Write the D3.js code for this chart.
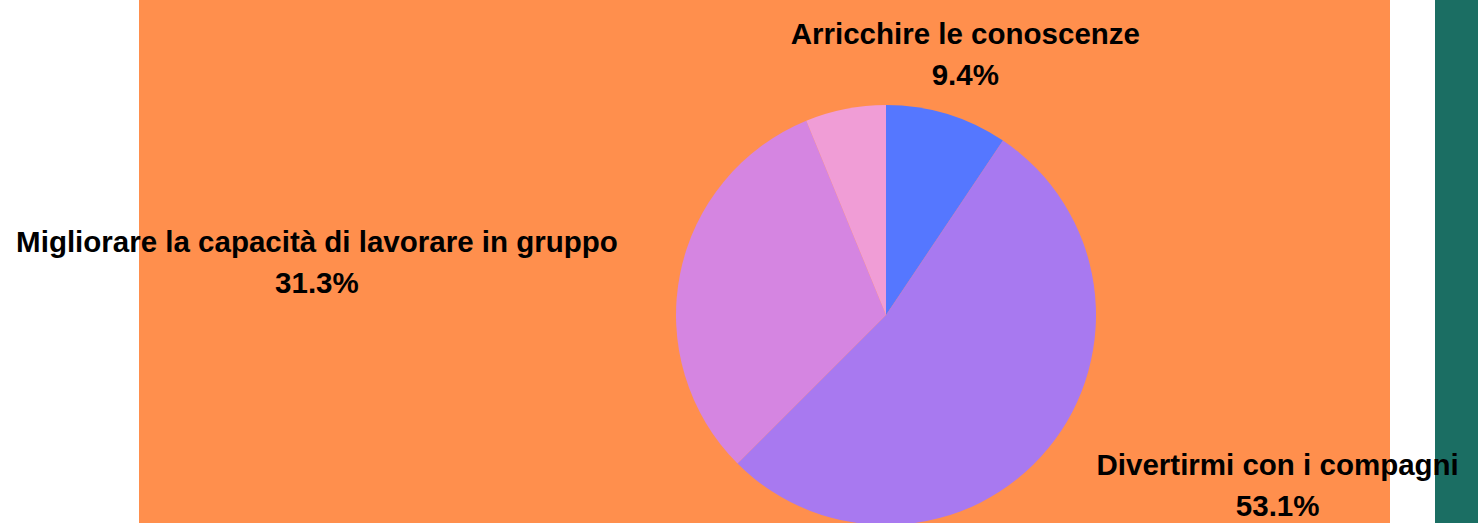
<!DOCTYPE html>
<html>
<head>
<meta charset="utf-8">
<script src="https://cdn.jsdelivr.net/npm/d3@7"></script>
<style>
  body { margin: 0; background: #ffffff; overflow: hidden; }
  text { font-family: "Liberation Sans", Arial, sans-serif; font-weight: bold; fill: #000; }
</style>
</head>
<body>
<svg id="chart" width="1478" height="523"></svg>
<script>
// data
const categories = ["Arricchire le conoscenze", "Divertirmi con i compagni", "Migliorare la capacità di lavorare in gruppo", "Altro"];
const values = [9.4, 53.1, 31.3, 6.2];
const showLabel = [true, true, true, false];
const colors = ["#5577ff", "#a879f0", "#d585e1", "#f09dd6"];

const svg = d3.select("#chart");
const W = 1478, H = 523;

// background panels
svg.append("rect").attr("x", 139).attr("y", 0).attr("width", 1251).attr("height", H).attr("fill", "#ff8f4d");
svg.append("rect").attr("x", 1435).attr("y", 0).attr("width", W - 1435).attr("height", H).attr("fill", "#1b6e63");

const cx = 886, cy = 315, r = 210;
const pie = d3.pie().sort(null).value(d => d.v);
const arcs = pie(categories.map((c, i) => ({c: c, v: values[i], i: i})));
const arc = d3.arc().innerRadius(0).outerRadius(r);

const g = svg.append("g").attr("transform", `translate(${cx},${cy})`);
g.selectAll("path").data(arcs).join("path")
  .attr("d", arc)
  .attr("fill", d => colors[d.data.i]);

// label placement (layout only): anchor from the slice centroid, then nudged
const labelArc = d3.arc().innerRadius(r * 1.2).outerRadius(r * 1.2);
const nudge = { 0: [6, -30], 1: [197, 0], 2: [-322, -13] };
const lg = svg.append("g").attr("transform", `translate(${cx},${cy})`);
arcs.filter(d => showLabel[d.data.i]).forEach(d => {
  const [x, y] = labelArc.centroid(d);
  const n = nudge[d.data.i];
  const t = lg.append("text")
    .attr("text-anchor", "middle")
    .attr("font-size", 29.5)
    .attr("x", x + n[0]).attr("y", y + n[1]);
  t.append("tspan").attr("x", x + n[0]).text(d.data.c);
  t.append("tspan").attr("x", x + n[0]).attr("dy", 41).text(d3.format(".1f")(d.data.v) + "%");
});
</script>
</body>
</html>
